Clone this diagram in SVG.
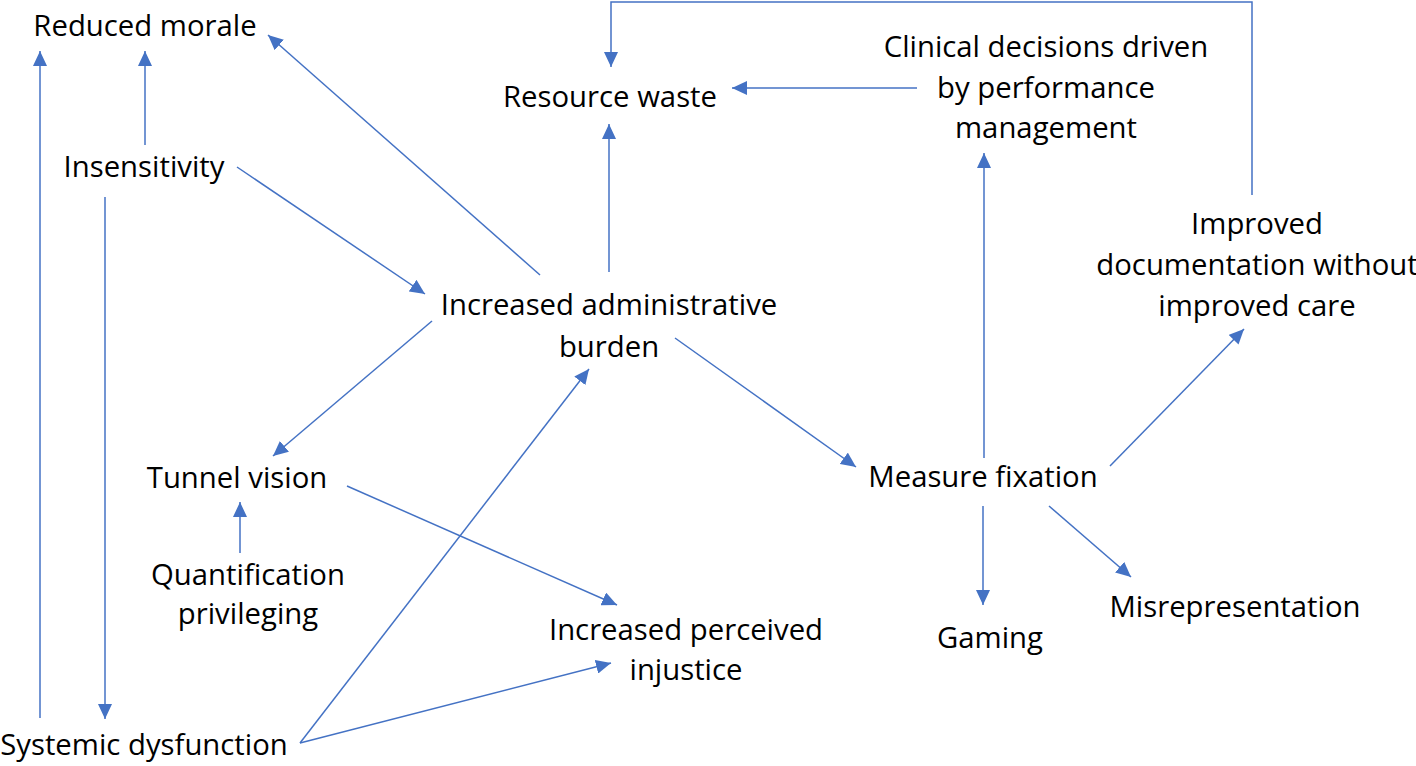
<svg xmlns="http://www.w3.org/2000/svg" width="1416" height="766" viewBox="0 0 1416 766">
<defs>
<style>
text{font-family:"Open Sans","Noto Sans","Liberation Sans",sans-serif;font-size:29.3px;fill:#000;text-anchor:middle}
.c{stroke:#4472C4;stroke-width:1.5;fill:none}
</style>
<marker id="ah" markerUnits="userSpaceOnUse" markerWidth="16" markerHeight="14" refX="15" refY="7" orient="auto">
<path d="M0,0 L15,7 L0,14 Z" fill="#4472C4"/>
</marker>
</defs>
<rect width="1416" height="766" fill="#fff"/>
<g id="connectors">
<path class="c" marker-end="url(#ah)" d="M40,718 V51"/>
<path class="c" marker-end="url(#ah)" d="M145,145 V51"/>
<path class="c" marker-end="url(#ah)" d="M105,197 V719"/>
<path class="c" marker-end="url(#ah)" d="M540,275 L268,35"/>
<path class="c" marker-end="url(#ah)" d="M237,167 L425,294"/>
<path class="c" marker-end="url(#ah)" d="M609,272 V124"/>
<path class="c" marker-end="url(#ah)" d="M432,321 L273,456"/>
<path class="c" marker-end="url(#ah)" d="M675,338 L856,467"/>
<path class="c" marker-end="url(#ah)" d="M917,88 H732"/>
<path class="c" marker-end="url(#ah)" d="M984,458 V153"/>
<path class="c" marker-end="url(#ah)" d="M1252,195 V2 H611 V67"/>
<path class="c" marker-end="url(#ah)" d="M1110,466 L1244,329"/>
<path class="c" marker-end="url(#ah)" d="M983,506 V605"/>
<path class="c" marker-end="url(#ah)" d="M1049,506 L1131,577"/>
<path class="c" marker-end="url(#ah)" d="M347,486 L617,605"/>
<path class="c" marker-end="url(#ah)" d="M240,553 V502"/>
<path class="c" marker-end="url(#ah)" d="M300,743 L589,369"/>
<path class="c" marker-end="url(#ah)" d="M300,743 L611,663"/>
</g>
<g id="n-reduced-morale"><text x="145" y="36">Reduced morale</text></g>
<g id="n-insensitivity"><text x="144" y="177">Insensitivity</text></g>
<g id="n-resource-waste"><text x="610" y="107">Resource waste</text></g>
<g id="n-clinical"><text x="1046" y="57">Clinical decisions driven</text><text x="1046" y="98">by performance</text><text x="1046" y="138">management</text></g>
<g id="n-improved"><text x="1257" y="234">Improved</text><text x="1257" y="275">documentation without</text><text x="1257" y="316">improved care</text></g>
<g id="n-admin"><text x="609" y="315">Increased administrative</text><text x="609" y="357">burden</text></g>
<g id="n-tunnel"><text x="237" y="488">Tunnel vision</text></g>
<g id="n-quant"><text x="248" y="585">Quantification</text><text x="248" y="624">privileging</text></g>
<g id="n-measure"><text x="983" y="487">Measure fixation</text></g>
<g id="n-gaming"><text x="990" y="648">Gaming</text></g>
<g id="n-misrep"><text x="1235" y="617">Misrepresentation</text></g>
<g id="n-injustice"><text x="686" y="640">Increased perceived</text><text x="686" y="680">injustice</text></g>
<g id="n-systemic"><text x="144" y="755">Systemic dysfunction</text></g>
</svg>
